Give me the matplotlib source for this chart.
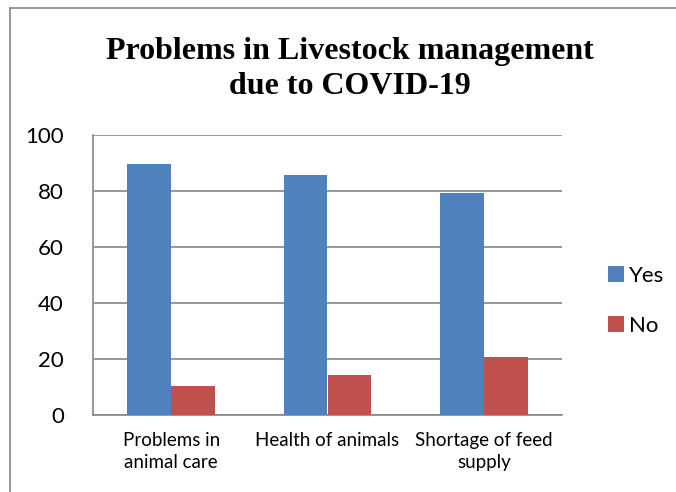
import numpy as np
import matplotlib.pyplot as plt
from matplotlib.lines import Line2D

# Chart data
categories = ['Problems in\nanimal care', 'Health of animals', 'Shortage of feed\nsupply']
yes_values = [89.6, 85.7, 79.3]
no_values = [10.4, 14.3, 20.7]
yticks = [0, 20, 40, 60, 80, 100]

fig = plt.figure(figsize=(6.76, 4.92), dpi=100)
ax = fig.add_axes([93 / 676, 1 - 415 / 492, (562 - 93) / 676, (415 - 135) / 492])

x = np.arange(len(categories))
w = 0.28
ax.bar(x - w / 2, yes_values, w, color='#4f81bd', label='Yes', zorder=3)
ax.bar(x + w / 2, no_values, w, color='#c0504d', label='No', zorder=3)

ax.set_xlim(-0.5, 2.5)
ax.set_ylim(0, 100)
ax.set_yticks(yticks)
ax.set_yticklabels([str(v) for v in yticks], fontsize=16, family='Lato')
ax.set_xticks(x)
ax.set_xticklabels(categories, fontsize=13.5, family='Lato', linespacing=1.4)
ax.tick_params(axis='both', length=0)
ax.tick_params(axis='y', pad=21)
ax.tick_params(axis='x', pad=12)
ax.grid(axis='y', color='#868686', linewidth=1.2, zorder=0)
for side in ['top', 'right']:
    ax.spines[side].set_visible(False)
for side in ['left', 'bottom']:
    ax.spines[side].set_color('#868686')
    ax.spines[side].set_linewidth(1.2)

fig.text(350 / 676, 1 - 69 / 492, 'Problems in Livestock management\ndue to COVID-19',
         ha='center', va='center', fontsize=23, fontweight='bold',
         family='Liberation Serif', linespacing=1.25)

fig.legend(loc='center left', bbox_to_anchor=(588 / 676, 1 - 301 / 492),
           frameon=False, prop={'family': 'Lato', 'size': 16},
           handlelength=0.7, handleheight=0.7, handletextpad=0.25, labelspacing=1.35)

# outer chart border
fig.add_artist(Line2D([10 / 676, 10 / 676], [0, 1 - 8 / 492], transform=fig.transFigure,
                      color='#868686', linewidth=1.2))
fig.add_artist(Line2D([10 / 676, 1], [1 - 8 / 492, 1 - 8 / 492], transform=fig.transFigure,
                      color='#868686', linewidth=1.2))

fig.savefig('out.png', dpi=100)
